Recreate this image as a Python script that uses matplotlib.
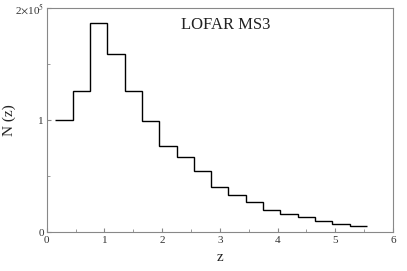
import matplotlib
matplotlib.use("Agg")
import matplotlib.pyplot as plt
from matplotlib.ticker import FixedLocator, FixedFormatter

plt.rcParams['font.family'] = ['Liberation Serif', 'DejaVu Serif']
plt.rcParams['mathtext.fontset'] = 'stix'

bin_edges = [0.15, 0.45, 0.75, 1.05, 1.35, 1.65, 1.95, 2.25, 2.55, 2.85,
             3.15, 3.45, 3.75, 4.05, 4.35, 4.65, 4.95, 5.25, 5.55]
counts = [1.00e5, 1.26e5, 1.87e5, 1.59e5, 1.26e5, 0.99e5, 0.77e5, 0.67e5, 0.545e5,
          0.40e5, 0.33e5, 0.27e5, 0.196e5, 0.166e5, 0.134e5, 0.098e5, 0.074e5, 0.059e5]
x_ticks = [0, 1, 2, 3, 4, 5, 6]
x_minor = [0.5, 1.5, 2.5, 3.5, 4.5, 5.5]
y_ticks = [0, 1e5, 2e5]
y_tick_labels = ["0", "1", r"2$\times$10$^5$"]
y_minor = [0.5e5, 1.5e5]

fig = plt.figure(figsize=(4.07, 2.71), dpi=100)
ax = fig.add_axes([0.1147, 0.1428, 0.9656 - 0.1147, 0.9694 - 0.1428])

ax.stairs(counts, bin_edges, color='black', linewidth=1.0, baseline=None)

ax.set_xlim(0, 6)
ax.set_ylim(0, 2e5)
ax.xaxis.set_major_locator(FixedLocator(x_ticks))
ax.xaxis.set_minor_locator(FixedLocator(x_minor))
ax.yaxis.set_major_locator(FixedLocator(y_ticks))
ax.yaxis.set_major_formatter(FixedFormatter(y_tick_labels))
ax.yaxis.set_minor_locator(FixedLocator(y_minor))

gray = '#888888'
for s in ax.spines.values():
    s.set_color(gray)
    s.set_linewidth(0.8)
ax.tick_params(which='both', direction='in', color=gray, labelcolor='#333333', labelsize=8)
ax.tick_params(which='major', length=3)
ax.tick_params(which='minor', length=2)
ax.tick_params(axis='x', pad=3)
ax.tick_params(axis='y', pad=2)

ax.set_xlabel('z', fontsize=11, color='#222222', labelpad=4)
ax.set_ylabel('N (z)', fontsize=11, color='#222222')
ax.yaxis.set_label_coords(-0.088, 0.5)

ax.text(3.1, 1.85e5, 'LOFAR MS3', fontsize=12, ha='center', va='center', color='#222222')

fig.savefig('out.png', dpi=100)
